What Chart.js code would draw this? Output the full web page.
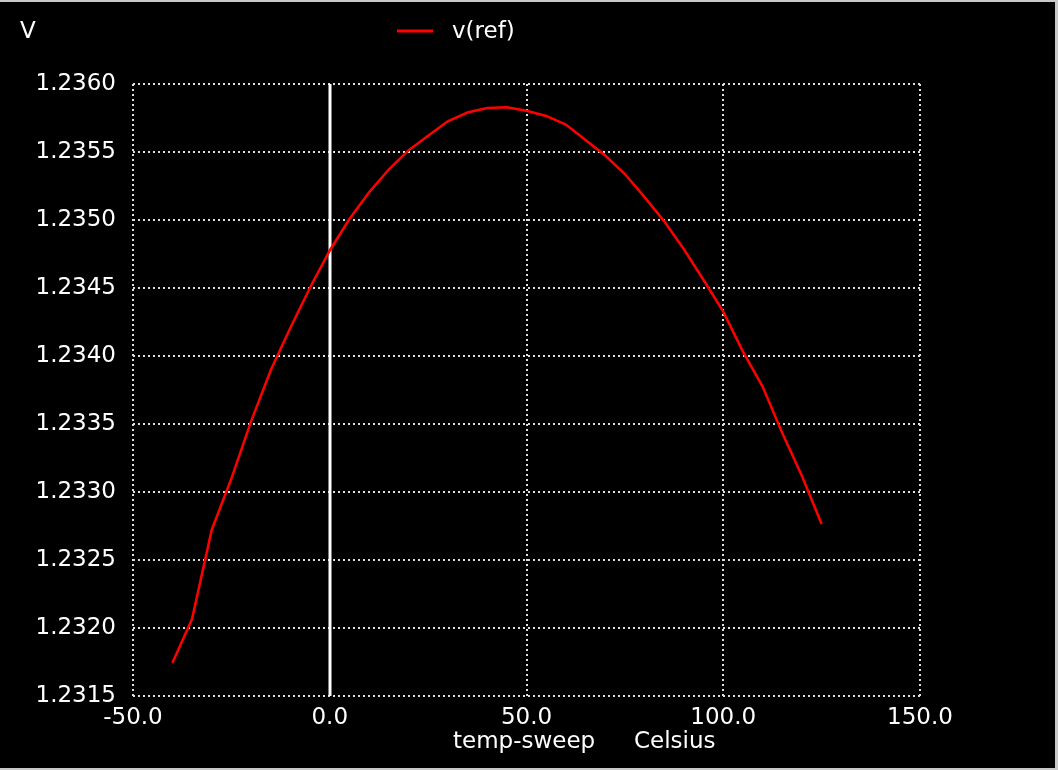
<!DOCTYPE html>
<html>
<head>
<meta charset="utf-8">
<script src="https://cdn.jsdelivr.net/npm/chart.js@4"></script>
<style>
  html, body { margin: 0; padding: 0; background: #c8c8c8; }
  #wrap { position: absolute; left: 0; top: 2px; width: 1055px; height: 766px; background: #000; }
  canvas { background: #000; }
</style>
</head>
<body>
<div id="wrap"><canvas id="plot"></canvas></div>
<script>
/* =========================
   DATA
========================= */

const tempC = [-40, -35, -30, -25, -20, -15, -10, -5, 0, 5, 10, 15, 20, 25, 30, 35, 40,
               45, 50, 55, 60, 65, 70, 75, 80, 85, 90, 95, 100, 105, 110, 115, 120, 125];

const vRef = [1.231743, 1.232066, 1.232721, 1.233099, 1.233519, 1.233895, 1.234207, 1.234504,
              1.234776, 1.235007, 1.235204, 1.235371, 1.235512, 1.235620, 1.235726, 1.235790,
              1.235824, 1.235829, 1.235803, 1.235765, 1.235702, 1.235588, 1.235474, 1.235338,
              1.235168, 1.234990, 1.234785, 1.234559, 1.234326, 1.234032, 1.233775, 1.233434,
              1.233118, 1.232765];

const xTicks = [-50, 0, 50, 100, 150];
const yTicks = [1.2315, 1.2320, 1.2325, 1.2330, 1.2335, 1.2340, 1.2345, 1.2350, 1.2355, 1.2360];

const seriesName = 'v(ref)';
const yUnit = 'V';
const xTitle = 'temp-sweep';
const xUnit = 'Celsius';

const FONT = 'DejaVu Sans';


/* =========================
   EXTRA TEXT + ZERO LINE
========================= */

const spiceDecor = {
    id: 'spiceDecor',

    beforeDatasetsDraw(chart) {
        const { ctx, chartArea: { top, bottom }, scales: { x } } = chart;
        const x0 = Math.round(x.getPixelForValue(0));

        // solid white line at 0 deg
        ctx.save();
        ctx.strokeStyle = '#ffffff';
        ctx.lineWidth = 3;
        ctx.beginPath();
        ctx.moveTo(x0, top);
        ctx.lineTo(x0, bottom);
        ctx.stroke();
        ctx.restore();
    },

    afterDraw(chart) {
        const { ctx } = chart;
        const ds = chart.data.datasets[0];

        ctx.save();
        ctx.fillStyle = '#ffffff';
        ctx.font = '23px "' + FONT + '"';
        ctx.textBaseline = 'middle';

        // unit label, top left
        ctx.fillText(yUnit, 20, 30);

        // legend
        ctx.strokeStyle = ds.borderColor;
        ctx.lineWidth = 3;
        ctx.beginPath();
        ctx.moveTo(397, 29);
        ctx.lineTo(433, 29);
        ctx.stroke();
        ctx.fillText(ds.label, 452, 30);

        // x axis title
        ctx.fillText(xTitle, 453, 740);
        ctx.fillText(xUnit, 634, 740);

        ctx.restore();
    }
};


/* =========================
   CHART
========================= */

const points = tempC.map((t, i) => ({ x: t, y: vRef[i] }));

new Chart(document.getElementById('plot'), {
    type: 'line',
    data: {
        datasets: [{
            label: seriesName,
            data: points,
            borderColor: '#ff0000',
            borderWidth: 2.5,
            pointRadius: 0,
            tension: 0,
            fill: false
        }]
    },
    options: {
        responsive: true,
        maintainAspectRatio: false,
        animation: false,
        layout: {
            padding: { left: 0, top: 82, right: 135, bottom: 0 }
        },
        plugins: {
            legend: { display: false },
            tooltip: { enabled: false }
        },
        scales: {
            x: {
                type: 'linear',
                min: -50,
                max: 150,
                afterBuildTicks: s => { s.ticks = xTicks.map(v => ({ value: v })); },
                afterFit: s => { s.height = 72; },
                ticks: {
                    color: '#ffffff',
                    font: { family: FONT, size: 23 },
                    padding: 8,
                    maxRotation: 0,
                    callback: v => v.toFixed(1)
                },
                grid: {
                    color: '#e0e0e0',
                    lineWidth: 2,
                    drawTicks: false
                },
                border: { display: false, dash: [2, 3] }
            },
            y: {
                type: 'linear',
                min: 1.2315,
                max: 1.2360,
                afterBuildTicks: s => { s.ticks = yTicks.map(v => ({ value: v })); },
                afterFit: s => { s.width = 133; },
                ticks: {
                    color: '#ffffff',
                    font: { family: FONT, size: 23 },
                    padding: 17,
                    callback: v => v.toFixed(4)
                },
                grid: {
                    color: '#e0e0e0',
                    lineWidth: 2,
                    drawTicks: false
                },
                border: { display: false, dash: [2, 3] }
            }
        }
    },
    plugins: [spiceDecor]
});
</script>
</body>
</html>
